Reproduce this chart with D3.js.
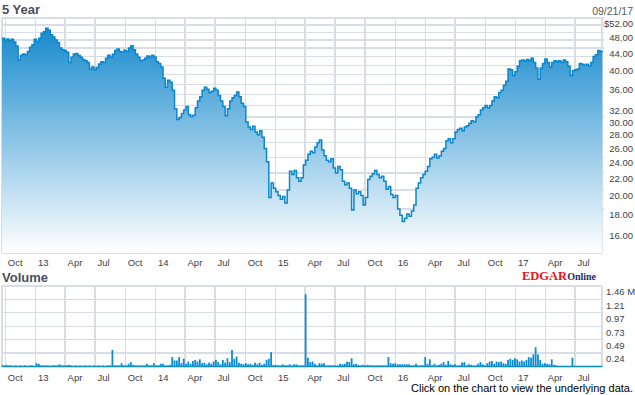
<!DOCTYPE html>
<html lang="en">
<head>
<meta charset="UTF-8">
<title>5 Year</title>
<script src="https://d3js.org/d3.v7.min.js"></script>
<style>
body {
  margin: 0;
  background: #fff;
  font-family: Arial, "Liberation Sans", sans-serif;
}
.grid line {
  stroke: #d9dee6;
  stroke-width: 1.3px;
  shape-rendering: crispEdges;
}
.tick-label {
  font-size: 9.5px;
  fill: #3a3f4a;
}
.title {
  font-size: 13px;
  font-weight: bold;
  fill: #4a4f5c;
}
</style>
</head>
<body>
<div id="chart"></div>
<script>
// weekly closes, first week ending 09/21/12
var priceStart = new Date(2012, 8, 21);
var prices = [
  46.5, 46.0, 46.3, 45.8, 46.2, 45.5, 44.5, 41.2, 42.3, 42.6,
  42.4, 43.2, 44.2, 44.8, 46.2, 45.6, 46.5, 47.8, 48.2, 49.1,
  48.6, 47.4, 46.8, 46.0, 45.4, 44.0, 43.6, 43.4, 43.0, 40.6,
  41.8, 42.6, 42.7, 42.2, 41.8, 41.3, 41.0, 40.6, 39.2, 39.6,
  39.0, 39.5, 40.3, 40.8, 40.6, 41.6, 42.3, 41.8, 42.5, 43.4,
  43.8, 43.2, 43.0, 43.5, 43.2, 44.0, 44.6, 43.6, 42.6, 41.8,
  41.0, 41.2, 41.6, 42.1, 41.8, 42.3, 41.9, 40.8, 40.4, 39.6,
  37.2, 35.4, 36.8, 36.4, 34.8, 31.4, 29.6, 29.9, 30.6, 31.2,
  31.8, 30.4, 30.1, 30.3, 31.6, 32.8, 33.6, 34.8, 35.4, 35.0,
  34.4, 34.6, 35.2, 34.8, 33.8, 32.8, 31.8, 30.2, 31.4, 32.8,
  33.4, 33.8, 34.5, 33.6, 32.4, 31.8, 29.2, 28.4, 28.0, 28.5,
  27.6, 27.2, 27.8, 26.8, 25.2, 23.4, 19.2, 20.8, 20.2, 19.8,
  19.4, 19.0, 19.3, 18.6, 20.0, 22.2, 21.8, 22.3, 21.4, 21.0,
  21.4, 23.0, 23.6, 24.4, 24.8, 24.6, 25.4, 26.0, 26.4, 25.0,
  24.2, 23.6, 23.4, 23.8, 22.6, 22.0, 22.8, 22.4, 21.0, 20.6,
  20.8, 20.2, 17.9, 20.0, 19.6, 19.8, 19.4, 18.4, 19.2, 21.2,
  21.6, 21.9, 22.3, 21.8, 21.4, 21.6, 21.0, 20.1, 20.4, 19.5,
  19.2, 19.4, 18.0, 17.4, 16.8, 17.1, 17.5, 17.3, 17.8, 18.4,
  20.2, 20.8, 21.4, 21.8, 22.2, 22.8, 23.8, 24.0, 24.4, 23.9,
  24.2, 24.8, 25.2, 26.3, 26.6, 26.0, 26.6, 27.6, 28.0, 28.2,
  27.8, 28.4, 28.6, 29.0, 29.4, 29.2, 30.0, 30.4, 31.2, 31.6,
  32.0, 31.6, 32.0, 32.8, 33.6, 33.4, 34.4, 34.8, 35.8, 36.6,
  39.2, 39.0, 37.8, 38.6, 39.8, 41.0, 41.2, 40.9, 41.3, 41.0,
  41.6, 40.6, 39.4, 37.0, 39.4, 40.4, 41.4, 40.6, 39.6, 40.6,
  41.0, 40.8, 41.0, 40.6, 41.2, 40.8, 39.8, 37.8, 38.8, 39.0,
  39.2, 40.4, 40.2, 40.0, 40.2, 39.8, 40.6, 42.0, 42.4, 43.4,
  43.2, 43.0
];

// weekly volume, millions of shares
var volumes = [
  0.02, 0.02, 0.03, 0.02, 0.02, 0.01, 0.02, 0.01, 0.02, 0.01,
  0.02, 0.01, 0.02, 0.02, 0.01, 0.06, 0.05, 0.02, 0.02, 0.02,
  0.02, 0.01, 0.02, 0.02, 0.02, 0.04, 0.02, 0.02, 0.02, 0.03,
  0.02, 0.01, 0.02, 0.01, 0.02, 0.01, 0.02, 0.01, 0.02, 0.01,
  0.02, 0.01, 0.02, 0.01, 0.02, 0.01, 0.02, 0.02, 0.30, 0.02,
  0.02, 0.02, 0.06, 0.02, 0.02, 0.05, 0.08, 0.03, 0.02, 0.02,
  0.02, 0.02, 0.02, 0.05, 0.02, 0.02, 0.06, 0.02, 0.02, 0.05,
  0.05, 0.02, 0.02, 0.03, 0.17, 0.11, 0.11, 0.17, 0.06, 0.14,
  0.05, 0.09, 0.05, 0.10, 0.12, 0.09, 0.13, 0.06, 0.07, 0.04,
  0.07, 0.05, 0.09, 0.12, 0.08, 0.04, 0.12, 0.07, 0.15, 0.08,
  0.30, 0.14, 0.18, 0.07, 0.05, 0.04, 0.06, 0.04, 0.05, 0.03,
  0.07, 0.04, 0.07, 0.03, 0.05, 0.12, 0.14, 0.26, 0.03, 0.03,
  0.02, 0.02, 0.04, 0.02, 0.02, 0.04, 0.02, 0.04, 0.04, 0.02,
  0.02, 0.02, 1.31, 0.16, 0.08, 0.09, 0.05, 0.02, 0.06, 0.05,
  0.06, 0.02, 0.02, 0.02, 0.02, 0.02, 0.02, 0.05, 0.04, 0.05,
  0.09, 0.08, 0.15, 0.04, 0.05, 0.03, 0.02, 0.03, 0.02, 0.03,
  0.02, 0.02, 0.02, 0.02, 0.02, 0.02, 0.02, 0.02, 0.17, 0.06,
  0.05, 0.06, 0.04, 0.04, 0.04, 0.04, 0.04, 0.04, 0.02, 0.02,
  0.05, 0.02, 0.02, 0.02, 0.17, 0.05, 0.13, 0.02, 0.05, 0.02,
  0.03, 0.05, 0.08, 0.03, 0.10, 0.04, 0.03, 0.04, 0.02, 0.02,
  0.07, 0.08, 0.02, 0.04, 0.03, 0.02, 0.02, 0.05, 0.08, 0.04,
  0.02, 0.06, 0.09, 0.10, 0.05, 0.09, 0.08, 0.09, 0.06, 0.05,
  0.12, 0.14, 0.12, 0.15, 0.13, 0.09, 0.11, 0.09, 0.12, 0.17,
  0.16, 0.22, 0.35, 0.22, 0.12, 0.05, 0.06, 0.05, 0.04, 0.13,
  0.03, 0.02, 0.01, 0.01, 0.01, 0.01, 0.01, 0.01, 0.16, 0.01,
  0.01, 0.01, 0.01, 0.01, 0.01, 0.01, 0.01, 0.01, 0.01, 0.01,
  0.01, 0.01
];

var priceTicks = [52, 48, 44, 40, 36, 32, 30, 28, 26, 24, 22, 20, 18, 16];
var volumeTicks = ["1.46 M", "1.21", "0.97", "0.73", "0.49", "0.24"];
var volumeMax = 1.46;
var lastDate = "09/21/17";

var W = 635, H = 395;
var left = 2, right = 602;
var pTop = 18, pBottom = 253;
var vTop = 286, vBottom = 366.5;

// one point a week, starting on the friday 09/21/12
var weeks = prices.map(function(d, i) { return d3.timeDay.offset(priceStart, 7 * i); });
var priceData = prices.map(function(p, i) { return {date: weeks[i], value: p}; });
var volData = volumes.map(function(v, i) { return {date: weeks[i], value: v}; });

var x = d3.scaleTime()
    .domain([priceStart, new Date(2017, 8, 21)])
    .range([left, right]);

var y = d3.scaleLog()
    .domain([14.1, 52])
    .range([pBottom, pTop]);

var yv = d3.scaleLinear()
    .domain([0, volumeMax])
    .range([vBottom, vTop]);

var svg = d3.select("#chart").append("svg")
    .attr("width", W)
    .attr("height", H);

var defs = svg.append("defs");
var grad = defs.append("linearGradient")
    .attr("id", "fillGrad")
    .attr("gradientUnits", "userSpaceOnUse")
    .attr("x1", 0).attr("y1", pTop)
    .attr("x2", 0).attr("y2", pBottom);
grad.append("stop").attr("offset", "0%").attr("stop-color", "#0e85cb");
grad.append("stop").attr("offset", "100%").attr("stop-color", "#ffffff");

var quarters = d3.timeMonth.every(3).range(new Date(2012, 9, 1), new Date(2017, 8, 1));
var monthFmt = function(d) {
  return d.getMonth() === 0 ? d3.timeFormat("%y")(d) : d3.timeFormat("%b")(d);
};

// ---------- price panel ----------
var grid = svg.append("g").attr("class", "grid");
var gridVals = d3.range(16, 53, 2);
grid.selectAll(".h").data(gridVals).enter().append("line")
    .attr("x1", left).attr("x2", right)
    .attr("y1", function(d) { return y(d); })
    .attr("y2", function(d) { return y(d); });
grid.selectAll(".v").data(quarters).enter().append("line")
    .attr("x1", function(d) { return x(d); })
    .attr("x2", function(d) { return x(d); })
    .attr("y1", pTop).attr("y2", pBottom);
grid.append("line").attr("x1", left).attr("x2", right).attr("y1", pBottom).attr("y2", pBottom);
grid.append("line").attr("x1", left).attr("x2", left).attr("y1", pTop).attr("y2", pBottom);
grid.append("line").attr("x1", right).attr("x2", right).attr("y1", pTop).attr("y2", pBottom);
grid.selectAll(".rt").data(gridVals).enter().append("line")
    .attr("x1", right).attr("x2", right + 2)
    .attr("y1", function(d) { return y(d); })
    .attr("y2", function(d) { return y(d); });

var area = d3.area()
    .curve(d3.curveStepAfter)
    .x(function(d) { return x(d.date); })
    .y0(pBottom)
    .y1(function(d) { return y(d.value); });

var line = d3.line()
    .curve(d3.curveStepAfter)
    .x(function(d) { return x(d.date); })
    .y(function(d) { return y(d.value); });

svg.append("path")
    .datum(priceData)
    .attr("d", area)
    .attr("fill", "url(#fillGrad)");

svg.append("path")
    .datum(priceData)
    .attr("d", line)
    .attr("fill", "none")
    .attr("stroke", "#0a87cc")
    .attr("stroke-width", 1.5);

svg.selectAll(".plabel").data(priceTicks).enter().append("text")
    .attr("class", "tick-label")
    .attr("x", 633)
    .attr("y", function(d) { return y(d) + 5.5; })
    .attr("dy", "0.35em")
    .attr("text-anchor", "end")
    .text(function(d, i) { return (i === 0 ? "$" : "") + d.toFixed(2); });

svg.selectAll(".xlabel").data(quarters).enter().append("text")
    .attr("class", "tick-label")
    .attr("x", function(d) { return x(d) + 2.5; })
    .attr("y", 263)
    .attr("dy", "0.35em")
    .text(monthFmt);

svg.append("text")
    .attr("class", "title")
    .attr("x", 2).attr("y", 14)
    .text("5 Year");

svg.append("text")
    .attr("x", 633).attr("y", 15)
    .attr("text-anchor", "end")
    .style("font-size", "10.5px")
    .style("fill", "#555a63")
    .text(lastDate);

// ---------- volume panel ----------
var vgrid = svg.append("g").attr("class", "grid");
var vGridVals = d3.range(1, 7).map(function(k) { return volumeMax * k / 6; });
vgrid.selectAll(".h").data(vGridVals).enter().append("line")
    .attr("x1", left).attr("x2", right)
    .attr("y1", function(d) { return yv(d); })
    .attr("y2", function(d) { return yv(d); });
vgrid.selectAll(".v").data(quarters).enter().append("line")
    .attr("x1", function(d) { return x(d); })
    .attr("x2", function(d) { return x(d); })
    .attr("y1", vTop).attr("y2", vBottom);
vgrid.append("line").attr("x1", left).attr("x2", left).attr("y1", vTop).attr("y2", vBottom);
vgrid.append("line").attr("x1", right).attr("x2", right).attr("y1", vTop).attr("y2", vBottom);

svg.selectAll(".vbar").data(volData).enter().append("rect")
    .attr("x", function(d) { return x(d.date) - 0.9; })
    .attr("width", 1.8)
    .attr("y", function(d) { return yv(d.value); })
    .attr("height", function(d) { return vBottom - yv(d.value); })
    .attr("fill", "#0b8dd0");

svg.append("line")
    .attr("x1", left).attr("x2", right)
    .attr("y1", vBottom).attr("y2", vBottom)
    .attr("stroke", "#0b8dd0")
    .attr("stroke-width", 1.6);

svg.selectAll(".vlabel").data(vGridVals.slice().reverse()).enter().append("text")
    .attr("class", "tick-label")
    .attr("x", 606)
    .attr("y", function(d) { return yv(d) + 6; })
    .attr("dy", "0.35em")
    .text(function(d, i) { return volumeTicks[i]; });

svg.selectAll(".vxlabel").data(quarters).enter().append("text")
    .attr("class", "tick-label")
    .attr("x", function(d) { return x(d) + 2.5; })
    .attr("y", 377.5)
    .attr("dy", "0.35em")
    .text(monthFmt);

svg.append("text")
    .attr("class", "title")
    .attr("x", 2).attr("y", 282)
    .text("Volume");

// EDGAR Online mark
var logo = svg.append("text")
    .attr("x", 522).attr("y", 279.5)
    .style("font-family", "'Liberation Serif', 'Times New Roman', serif")
    .style("font-weight", "bold");
logo.append("tspan").text("EDGAR").style("font-size", "12.5px").style("fill", "#e8141b");
logo.append("tspan").text("Online").style("font-size", "10px").style("fill", "#1d2d6b");

svg.append("text")
    .attr("x", 633).attr("y", 392)
    .attr("text-anchor", "end")
    .style("font-size", "11px")
    .style("fill", "#000")
    .text("Click on the chart to view the underlying data.");
</script>
</body>
</html>
